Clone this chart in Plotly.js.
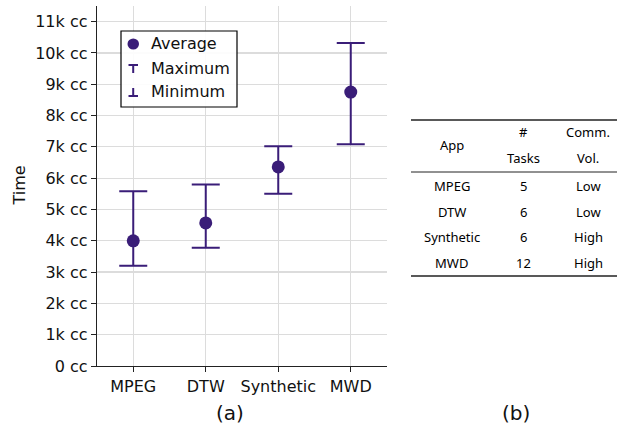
<!DOCTYPE html>
<html><head><meta charset="utf-8">
<script src="https://cdn.plot.ly/plotly-3.0.1.min.js"></script>
<style>html,body{margin:0;padding:0;background:#fff;}#chart{width:618px;height:434px;}</style>
</head><body><div id="chart"></div>
<script>
// ---- data ----
const apps = ['MPEG', 'DTW', 'Synthetic', 'MWD'];
const avgTime = [4000, 4570, 6360, 8750];
const maxTime = [5580, 5800, 7020, 10320];
const minTime = [3200, 3780, 5500, 7080];
const yTickVals = [0, 1000, 2000, 3000, 4000, 5000, 6000, 7000, 8000, 9000, 10000, 11000];
const yTickText = ['0 cc', '1k cc', '2k cc', '3k cc', '4k cc', '5k cc', '6k cc', '7k cc', '8k cc', '9k cc', '10k cc', '11k cc'];
const legendLabels = ['Average', 'Maximum', 'Minimum'];
// table (b)
const tblHeader1 = ['', '#', 'Comm.'];
const tblHeader2 = ['', 'Tasks', 'Vol.'];
const tblHeaderMid = ['App', '', ''];
const tblTasks = [5, 6, 6, 12];
const tblVol = ['Low', 'Low', 'High', 'High'];

const C = '#3a1d78';
const W = 618, H = 434;
const mL = 97, mR = 231, mT = 6, mB = 68;

const trace = {
  x: apps, y: avgTime, type: 'scatter', mode: 'markers',
  marker: {color: C, size: 13, symbol: 'circle'},
  error_y: {
    type: 'data', symmetric: false,
    array: maxTime.map((v, i) => v - avgTime[i]),
    arrayminus: avgTime.map((v, i) => v - minTime[i]),
    color: C, thickness: 2, width: 14
  },
  showlegend: false, hoverinfo: 'skip'
};

// helpers to convert pixel to paper coords
const px = x => (x - mL) / (W - mL - mR);
const py = y => (H - mB - y) / (H - mT - mB);

const shapes = [];
const annotations = [];

// legend box
shapes.push({type: 'rect', xref: 'paper', yref: 'paper', x0: px(121), x1: px(237), y0: py(107), y1: py(31),
  line: {color: '#000', width: 1.2}, fillcolor: 'rgba(255,255,255,0.9)', layer: 'above'});
const legY = [44, 68, 91];
shapes.push({type: 'circle', xref: 'paper', yref: 'paper', x0: px(127.5), x1: px(139), y0: py(49.5), y1: py(38.5),
  fillcolor: C, line: {color: C, width: 0}, layer: 'above'});
// Max  T
shapes.push({type: 'line', xref: 'paper', yref: 'paper', x0: px(128.5), x1: px(138), y0: py(65), y1: py(65), line: {color: C, width: 2}, layer: 'above'});
shapes.push({type: 'line', xref: 'paper', yref: 'paper', x0: px(133.2), x1: px(133.2), y0: py(65), y1: py(73), line: {color: C, width: 2}, layer: 'above'});
// Min  ⊥
shapes.push({type: 'line', xref: 'paper', yref: 'paper', x0: px(128.5), x1: px(138), y0: py(96), y1: py(96), line: {color: C, width: 2}, layer: 'above'});
shapes.push({type: 'line', xref: 'paper', yref: 'paper', x0: px(133.2), x1: px(133.2), y0: py(88), y1: py(96), line: {color: C, width: 2}, layer: 'above'});
legendLabels.forEach((t, i) => {
  annotations.push({xref: 'paper', yref: 'paper', x: px(149), y: py(legY[i]), xanchor: 'left', yanchor: 'middle',
    text: t, showarrow: false, font: {family: 'DejaVu Sans', size: 16, color: '#111'}});
});

// captions
annotations.push({xref: 'paper', yref: 'paper', x: px(230), y: py(413), xanchor: 'center', yanchor: 'middle',
  text: '(a)', showarrow: false, font: {family: 'DejaVu Sans', size: 20, color: '#111'}});
annotations.push({xref: 'paper', yref: 'paper', x: px(516), y: py(413), xanchor: 'center', yanchor: 'middle',
  text: '(b)', showarrow: false, font: {family: 'DejaVu Sans', size: 20, color: '#111'}});
// y title
annotations.push({xref: 'paper', yref: 'paper', x: px(18.5), y: py(186), xanchor: 'center', yanchor: 'middle',
  text: 'Time', textangle: -90, showarrow: false, font: {family: 'DejaVu Sans', size: 16, color: '#111'}});

// table
const colX = [452, 523, 588];
const tf = {family: 'Noto Sans', size: 13, color: '#000'};
const tAnn = (x, y, t) => annotations.push({xref: 'paper', yref: 'paper', x: px(x), y: py(y), xanchor: 'center', yanchor: 'middle', text: String(t), showarrow: false, font: tf});
[[411, 617, 120, 1.3], [411, 617, 172, 1], [411, 617, 276, 1.3]].forEach(r => {
  shapes.push({type: 'line', xref: 'paper', yref: 'paper', x0: px(r[0]), x1: px(r[1]), y0: py(r[2]), y1: py(r[2]), line: {color: '#222', width: r[3]}});
});
tblHeader1.forEach((t, i) => { if (t) tAnn(colX[i], 132, t); });
tblHeader2.forEach((t, i) => { if (t) tAnn(colX[i], 158, t); });
tblHeaderMid.forEach((t, i) => { if (t) tAnn(colX[i], 145, t); });
const rowY = [186, 212, 237, 263];
apps.forEach((a, i) => {
  tAnn(colX[0], rowY[i], a);
  tAnn(colX[1], rowY[i], tblTasks[i]);
  tAnn(colX[2], rowY[i], tblVol[i]);
});

const layout = {
  width: W, height: H,
  margin: {l: mL, r: mR, t: mT, b: mB, pad: 0},
  paper_bgcolor: '#fff', plot_bgcolor: '#fff',
  showlegend: false,
  xaxis: {
    type: 'category', range: [-0.5, 3.5], showgrid: true, gridcolor: '#dcdcdc', gridwidth: 1.2,
    showline: true, linecolor: '#222', linewidth: 1.3, ticks: 'outside', ticklen: 5, tickcolor: '#222',
    tickfont: {family: 'DejaVu Sans', size: 16, color: '#111'}, zeroline: false, fixedrange: true
  },
  yaxis: {
    range: [0, 11500], tickvals: yTickVals, ticktext: yTickText, showgrid: true, gridcolor: '#dcdcdc', gridwidth: 1.2,
    showline: true, linecolor: '#222', linewidth: 1.3, ticks: 'outside', ticklen: 5, tickcolor: '#222',
    tickfont: {family: 'DejaVu Sans', size: 16, color: '#111'}, zeroline: false, fixedrange: true
  },
  shapes: shapes, annotations: annotations
};

Plotly.newPlot('chart', [trace], layout, {displayModeBar: false, staticPlot: true});
</script>
</body></html>
